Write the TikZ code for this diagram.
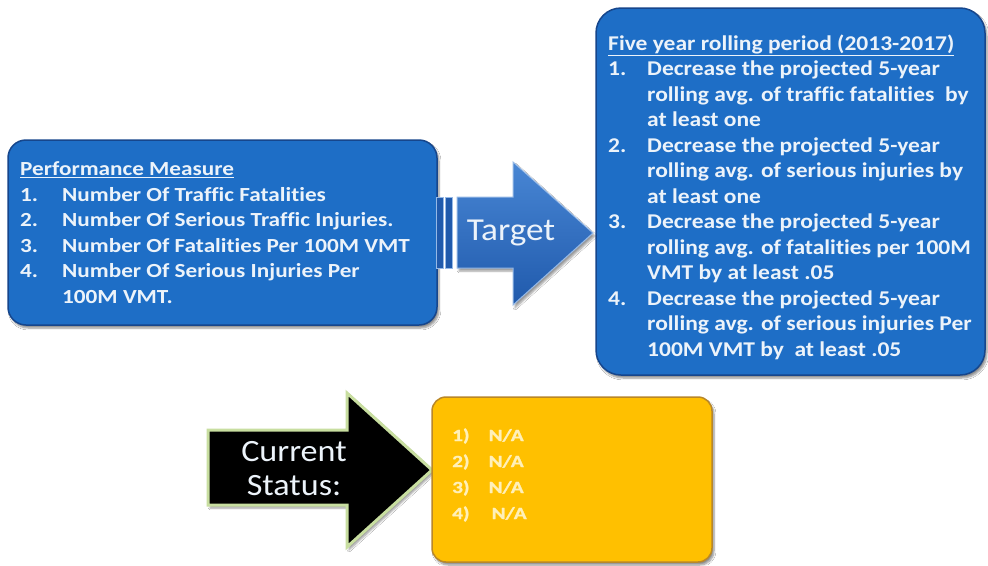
\documentclass[tikz,border=0pt]{standalone}
\usepackage{fontspec}
\setmainfont{Carlito}[Ligatures={NoCommon}]
\newfontfamily\leftfont{Carlito}[FakeStretch=1.16, Ligatures={NoCommon}]
\newfontfamily\rightfont{Carlito}[FakeStretch=1.12, Ligatures={NoCommon}]
\newfontfamily\nafont{Carlito}[FakeStretch=1.25, FakeBold=1.2, Ligatures={NoCommon}]
\newfontfamily\arrowfont{Carlito}[FakeStretch=1.1]
\usetikzlibrary{shadows.blur}
\definecolor{boxblue}{RGB}{30,110,198}
\definecolor{boxedge}{RGB}{22,70,140}
\definecolor{txtwhite}{RGB}{236,243,250}
\definecolor{arrowtop}{RGB}{72,134,212}
\definecolor{arrowbot}{RGB}{32,90,172}
\definecolor{arrowedge}{RGB}{150,185,230}
\definecolor{orangefill}{RGB}{255,192,0}
\definecolor{orangeedge}{RGB}{185,135,40}
\definecolor{natxt}{RGB}{255,240,185}
\definecolor{greenedge}{RGB}{200,222,160}
\tikzset{
  panel/.style={rounded corners=#1, line width=1.5pt,
    blur shadow={shadow xshift=2pt, shadow yshift=-3pt, shadow blur steps=6, shadow opacity=45}},
  bluepanel/.style={panel=#1, fill=boxblue, draw=boxedge},
  leftline/.style={anchor=base west, inner sep=0pt, text=txtwhite,
    font=\leftfont\fontsize{20}{24}\selectfont\bfseries},
  rightline/.style={anchor=base west, inner sep=0pt, text=txtwhite,
    font=\rightfont\fontsize{21}{25}\selectfont\bfseries},
  naline/.style={anchor=base west, inner sep=0pt, text=natxt,
    font=\nafont\fontsize{17}{20}\selectfont\bfseries},
  bigarrowtext/.style={inner sep=0pt, align=center, text=txtwhite}
}
\newcommand{\numA}[1]{\makebox[42pt][l]{#1}}
\newcommand{\numB}[1]{\makebox[39pt][l]{#1}}
\begin{document}
\begin{tikzpicture}[x=1pt,y=-1pt]
\useasboundingbox (0,0) rectangle (988,565);
\fill[white] (0,0) rectangle (988,565);

% left panel
\draw[bluepanel=18] (8,140) rectangle (437,325);
\node[leftline] (pm0) at (20,175.5) {\underline{Performance Measure}};
\node[leftline] (pm1) at (20,201) {\numA{1.}Number Of Traffic Fatalities};
\node[leftline] (pm2) at (20,226.5) {\numA{2.}Number Of Serious Traffic Injuries.};
\node[leftline] (pm3) at (20,252) {\numA{3.}Number Of Fatalities Per 100M VMT};
\node[leftline] (pm4) at (20,277.5) {\numA{4.}Number Of Serious Injuries Per};
\node[leftline] (pm5) at (20,303) {\numA{}100M VMT.};

% right panel
\draw[bluepanel=25] (596,8) rectangle (985,375);
\node[rightline] (t0) at (608,50) {\underline{Five year rolling period (2013-2017)}};
\node[rightline] (t1) at (608,75.5) {\numB{1.}Decrease the projected 5-year};
\node[rightline] (t2) at (608,101) {\numB{}rolling avg. of traffic fatalities\ \ by};
\node[rightline] (t3) at (608,126.5) {\numB{}at least one};
\node[rightline] (t4) at (608,152) {\numB{2.}Decrease the projected 5-year};
\node[rightline] (t5) at (608,177.5) {\numB{}rolling avg. of serious injuries by};
\node[rightline] (t6) at (608,203) {\numB{}at least one};
\node[rightline] (t7) at (608,228.5) {\numB{3.}Decrease the projected 5-year};
\node[rightline] (t8) at (608,254) {\numB{}rolling avg. of fatalities per 100M};
\node[rightline] (t9) at (608,279.5) {\numB{}VMT by at least .05};
\node[rightline] (t10) at (608,305) {\numB{4.}Decrease the projected 5-year};
\node[rightline] (t11) at (608,330.5) {\numB{}rolling avg. of serious injuries Per};
\node[rightline] (t12) at (608,356) {\numB{}100M VMT by\ \ at least .05};

% Target arrow
\fill[arrowbot, draw=arrowedge, line width=1pt] (436,197) rectangle (443,268);
\fill[arrowbot, draw=arrowedge, line width=1pt] (445,197) rectangle (452,268);
\shade[top color=arrowtop, bottom color=arrowbot,
  blur shadow={shadow xshift=2pt, shadow yshift=-3pt, shadow blur steps=5, shadow opacity=40}]
  (457,197) -- (513,197) -- (513,162) -- (593,233) -- (513,305) -- (513,268) -- (457,268) -- cycle;
\draw[arrowedge, line width=1pt] (457,197) -- (513,197) -- (513,162) -- (593,233) -- (513,305) -- (513,268) -- (457,268) -- cycle;
\node[bigarrowtext, font=\arrowfont\fontsize{32}{36}\selectfont] (target) at (511,233) {Target};

% Current status arrow
\draw[fill=black, draw=greenedge, line width=3pt, line join=miter,
  blur shadow={shadow xshift=2pt, shadow yshift=-3pt, shadow blur steps=5, shadow opacity=40}]
  (208,430) -- (347,430) -- (347,393) -- (432,470) -- (347,547) -- (347,505) -- (208,505) -- cycle;
\node[bigarrowtext, font=\arrowfont\fontsize{31}{34}\selectfont] (status) at (294,469) {Current\\Status:};

% orange panel
\draw[panel=14, fill=orangefill, draw=orangeedge] (432,397) rectangle (712,562);
\node[naline] (n1) at (452,441) {1)\hspace{19pt}N/A};
\node[naline] (n2) at (452,467) {2)\hspace{19pt}N/A};
\node[naline] (n3) at (452,493) {3)\hspace{19pt}N/A};
\node[naline] (n4) at (452,519) {4)\hspace{22pt}N/A};
\end{tikzpicture}
\end{document}
